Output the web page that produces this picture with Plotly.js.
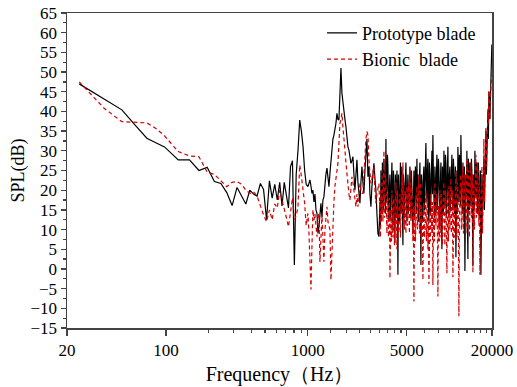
<!DOCTYPE html>
<html>
<head>
<meta charset="utf-8">
<script src="https://cdn.plot.ly/plotly-3.0.1.min.js"></script>
<style>html,body{margin:0;padding:0;background:#fff;}#chart{width:517px;height:387px;}</style>
</head>
<body>
<div id="chart"></div>
<script>
// Frequencies (Hz) shared by both series
const freqHz = [
24.4,36.6,48.8,61,73.2,85.4,97.6,122,146.4,170.8,195.2,219.6,244,268.4,292.8,317.2,341.6,366,390.4,414.8,439.2,463.6,488,512.4,536.8,561.2,585.6,610,634.4,658.8,683.2,707.6,732,756.4,780.8,805.2,829.6,854,878.4,902.8,927.2,951.6,976,
1004,1021,1038,1055,1072,1089,1107,1125,1144,1163,1182,1201,1220,1240,1261,1281,1302,1324,1345,1368,1390,1413,1436,
1459,1483,1507,1532,1557,1583,1609,1635,1662,1689,1717,1745,1773,1803,1832,1862,1893,1924,1955,1987,2020,2053,2086,2121,2155,2191,2227,2263,2300,2338,2376,2415,2454,2495,2536,2577,2619,2662,2706,2750,2795,2841,2888,2935,2983,3032,3082,3132,3184,
3236,3262,3289,3316,3343,3370,3397,3425,3453,3481,3510,3539,3567,3596,3626,3656,3685,3715,3745,3776,
3807,3838,3869,3901,3932,3964,3997,4030,4062,4095,4129,4163,4197,4231,4265,4300,4335,4370,4406,4442,
4478,4515,4551,4588,4626,4664,4702,4740,4779,4818,4857,4897,4937,4977,5018,5059,5100,5142,5184,5226,
5268,5311,5354,5398,5442,5486,5531,5576,5622,5668,5714,5761,5808,5855,5903,5951,6000,6049,6098,6148,
6197,6248,6299,6350,6402,6454,6507,6560,6613,6667,6722,6777,6832,6888,6944,7001,7058,7116,7173,7232,
7290,7349,7410,7470,7531,7592,7654,7716,7780,7843,7907,7972,8037,8103,8169,8236,8303,8371,8439,8508,
8577,8647,8718,8789,8860,8932,9006,9079,9153,9228,9303,9379,9456,9533,9611,9689,9768,9848,9928,10009,
10090,10172,10255,10339,10423,10508,10594,10680,10768,10856,10944,11033,11124,11215,11306,11398,11491,11585,11680,11775,
11870,11967,12065,12163,12262,12362,12463,12565,12668,12771,12875,12980,13086,13193,13301,13410,13519,13629,13740,13852,
13966,14080,14195,14311,14427,14545,14664,14784,14904,15026,15148,15272,15397,15523,15649,15777,15906,16036,16166,16298,
16430,16564,16699,16835,16973,17112,17251,17392,17534,17677,17821,17966,18113,18261,18410,18560,18712,18865,19018,19173,
19328,19486,19645,19805,19950
];

// Prototype blade SPL (dB)
const prototypeSPL = [
47,43.1,40.4,36.4,33.2,32,31,27.7,27.7,25,25.8,22.2,21.7,19.4,16.1,20.7,18.6,16.5,20,19,18.5,21.7,20.2,12.5,22.4,18,21.5,17.5,22,16,22,18,15.5,26,27.5,1,24,30,37.8,35,31,25,21.5,
20.9,22,22.6,21,19.2,20,17,19,15,14.1,9,10.7,14,16.7,13,17.5,18.3,22,24,25.6,22.2,20.9,24.3,
27,31,33,34,35.3,37,39.5,38,37.8,45,51,44.6,42,41.2,38,36.1,33,31,30.2,28,26.8,27.5,28.5,24,20,24,27.7,22,19,16.7,22,26,22,19.2,25,30.2,33,23.4,26,19,15.8,21,24,26.8,23,20,14,9,8.2,
17,11,25,19,14,27,22,15,28,23,19,14,33,17,21,29,26,16,12,21,
24,13,18,23,27,16,10,25,22,14,6.5,24,20,13,25,19,-1.5,24,18,12,
23,27,14,20,26,15,6,24,21,13,16,23,27,18,12,20,24,14,19,23,
26,16,13,25,22,15,9,20,25,13,17,26,23,14,28,18,24,12,15,23,
27,16,1,24,22,12,14,24,26,15,19,27,32,21,17,25,28,15,12,27,
24,14,18,26,30,19,34,24,20,13,26,20,14,24,29,15,19,28,25,17,
10,22,27,15,5,26,23,14,30,21,16,29,27,13,20,27,31,18,13,24,
26,15,22,27,29,18,15,28,24,14,18,26,3,20,25,14,31,24,17,29,
28,16,34,25,21,14,27,22,12,26,-0.5,15,24,19,30,13,2.5,28,22,15,
27,20,16,28,25,13,0.6,24,21,15,30,22,18,27,26,15,14,27,23,13,
19,25,-1.5,20,24,13,17,26,28,15,22,29,35,24,30,36,40,33,45,43,
38,42,48,52,57
];

// Bionic blade SPL (dB)
const bionicSPL = [
47.5,40.8,37.4,37.2,37.1,35.6,33.8,29.8,28.7,28.5,24.6,24,22.4,20.9,22,22.2,21.5,20,19.2,19.6,18.5,15.8,13.7,12,15,12.5,16.5,15.5,20,17.5,15.5,13,10.7,14,18,12.5,13.5,15.8,26.4,23.5,20.5,16.7,11,
14.1,9,2,-5.2,6,15,12.4,14,11,8.2,13,14.1,1.8,10,14,8,1.8,9.9,12.4,15.8,12,10.7,9.9,
-2.8,5,11.6,17,21,23.4,25,26.8,32,37,38,39.5,36,33.6,30.2,27,24,21.7,19,17.5,20,23.4,22,20,18,15.8,19,15.8,18,21.7,20,19.2,19.2,24,30.2,33,34.9,34,27.7,24,21.7,23,25,26,20,16.7,19,21,21.7,
14,8,20,12,25,16,12,21,30,13,18,24,22,14,9,19,17,8,11,18,
-2.4,9,15,7,20,12,8,17,18,6,12,19,22,13,5,20,16,9,10,17,
19,8,13,21,24,14,27,18,15,10,20,14,9,18,21,11,14,22,18,9,
25.5,17,12,21,20,11,7,16,-8.3,10,16,7,11,18,21,10,14,19,24,9,
18,22,8,16,15,9,-2.8,12,17,8,10,16,20,7,13,18,5,12,-3.8,9,
14,7,19,13,9,17,-4.1,10,16,7,22,14,11,19,18,9,-7,16,13,7,
20,14,8,19,17,6,12,19,22,12,6,20,18,9,-1.1,19,14,7,21,15,
10,19,23,9,15,20,-2.1,13,18,8,12,19,25,13,8,22,20,10,-12,12,
16,24,22,10,11,20,26,9,14,21,24,15,9,22,28,10,18,25,24,8,
12,21,27,13,19,24,-1.1,16,22,10,15,24,29,13,20,27,25,16,11,22,
-1.5,12,18,23,26,9,14,22,33,17,24,30,36,26,29,34,41,37,45.4,42,
38,44,46,49,50
];

const seriesNames = ["Prototype blade", "Bionic  blade"];
const xTickVals = [20, 100, 1000, 5000, 20000];
const xTickText = ["20", "100", "1000", "5000", "20000"];
const xMinorTicks = [200,300,400,500,600,700,800,900,1444.4,1888.9,2333.3,2777.8,3222.2,3666.7,4111.1,4555.6,6666.7,8333.3,10000,11666.7,13333.3,15000,16666.7,18333.3];

const FONT = "'Liberation Serif', 'Times New Roman', serif";
const AXC = "#444";

const traces = [
  {x: freqHz, y: prototypeSPL, name: seriesNames[0], type: "scatter", mode: "lines",
   line: {color: "#000000", width: 1.2}},
  {x: freqHz, y: bionicSPL, name: seriesNames[1], type: "scatter", mode: "lines",
   line: {color: "#d40000", width: 1.2, dash: "4px,3px"}}
];

const layout = {
  width: 517, height: 387,
  margin: {l: 67, r: 25, t: 13, b: 59},
  paper_bgcolor: "#ffffff", plot_bgcolor: "#ffffff",
  font: {family: FONT, size: 17, color: "#000"},
  showlegend: true,
  legend: {x: 0.6, y: 0.995, xanchor: "left", yanchor: "top",
           bgcolor: "rgba(0,0,0,0)", font: {family: FONT, size: 18, color: "#000"}},
  xaxis: {
    type: "log", range: [Math.log10(20), Math.log10(20000)],
    tickmode: "array", tickvals: xTickVals, ticktext: xTickText,
    ticks: "outside", ticklen: 6, tickwidth: 1.3, tickcolor: AXC,
    ticklabelstandoff: 0,
    minor: {tickmode: "array", tickvals: xMinorTicks, ticks: "outside", ticklen: 3, tickwidth: 1.2, tickcolor: AXC, showgrid: false},
    showline: true, linecolor: AXC, linewidth: 1.5, mirror: true,
    showgrid: false, zeroline: false,
    tickfont: {family: FONT, size: 17, color: "#000"},
    title: {text: "Frequency（Hz）", font: {family: FONT, size: 20, color: "#000"}, standoff: 8}
  },
  yaxis: {
    range: [-15, 65], tickmode: "linear", tick0: -15, dtick: 5,
    ticks: "outside", ticklen: 5, tickwidth: 1.3, tickcolor: AXC,
    minor: {dtick: 2.5, tick0: 0, ticks: "outside", ticklen: 3, tickwidth: 1.2, tickcolor: AXC, showgrid: false},
    showline: true, linecolor: AXC, linewidth: 1.5, mirror: true,
    showgrid: false, zeroline: false,
    tickfont: {family: FONT, size: 17, color: "#000"},
    title: {text: "SPL(dB)", font: {family: FONT, size: 18, color: "#000"}, standoff: 1}
  }
};

Plotly.newPlot("chart", traces, layout, {displayModeBar: false, staticPlot: true});
</script>
</body>
</html>
